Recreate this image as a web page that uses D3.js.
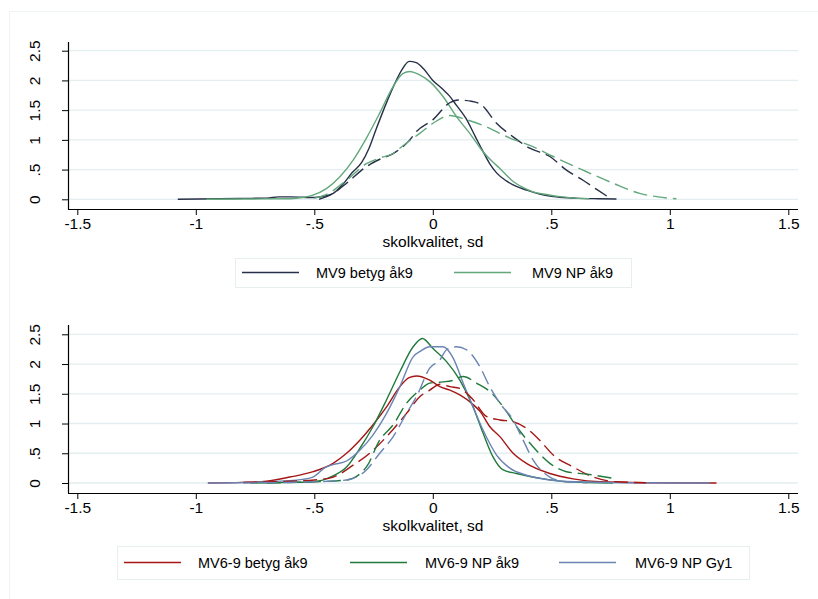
<!DOCTYPE html>
<html>
<head>
<meta charset="utf-8">
<script src="https://cdn.jsdelivr.net/npm/d3@7"></script>
<style>
  body { margin: 0; background: #fff; }
  svg text { font-family: "Liberation Sans", Arial, sans-serif; fill: #000; }
</style>
</head>
<body>
<svg id="chart" width="818" height="599"></svg>
<script>
// ---------- data ----------
const xTicks = [-1.5, -1, -0.5, 0, 0.5, 1, 1.5];
const xTickLabels = ["-1.5", "-1", "-.5", "0", ".5", "1", "1.5"];
const yTicks = [0, 0.5, 1, 1.5, 2, 2.5];
const yTickLabels = ["0", ".5", "1", "1.5", "2", "2.5"];
const xTitle = "skolkvalitet, sd";

// top panel
const mv9BetygSolid = [[-1.076,0],[-0.9,0.01],[-0.8,0.015],[-0.7,0.02],[-0.65,0.04],[-0.6,0.04],[-0.5,0.03],[-0.45,0.06],[-0.42,0.10],[-0.38,0.25],[-0.34,0.45],[-0.3,0.62],[-0.27,0.85],[-0.24,1.17],[-0.2,1.58],[-0.16,1.95],[-0.13,2.18],[-0.1,2.32],[-0.07,2.30],[-0.04,2.2],[0,2.0],[0.04,1.86],[0.07,1.74],[0.1,1.58],[0.14,1.36],[0.18,1.05],[0.21,0.82],[0.24,0.6],[0.27,0.44],[0.31,0.31],[0.35,0.22],[0.4,0.15],[0.45,0.09],[0.5,0.05],[0.55,0.03],[0.6,0.02],[0.7,0.01],[0.775,0.005]];
const mv9NPSolid = [[-0.955,0],[-0.8,0.005],[-0.6,0.01],[-0.55,0.03],[-0.506,0.07],[-0.449,0.18],[-0.392,0.38],[-0.336,0.66],[-0.28,1.03],[-0.224,1.45],[-0.167,1.9],[-0.125,2.12],[-0.097,2.15],[-0.06,2.1],[-0.013,1.98],[0.043,1.73],[0.1,1.39],[0.156,1.11],[0.212,0.8],[0.25,0.64],[0.283,0.52],[0.339,0.30],[0.38,0.2],[0.42,0.13],[0.48,0.08],[0.536,0.045],[0.6,0.02],[0.66,0.01]];
const mv9BetygDash = [[-0.48,0.0],[-0.42,0.1],[-0.364,0.27],[-0.28,0.55],[-0.22,0.68],[-0.167,0.77],[-0.097,1.0],[-0.069,1.14],[0.001,1.34],[0.07,1.62],[0.107,1.67],[0.163,1.65],[0.205,1.59],[0.269,1.28],[0.339,1.05],[0.409,0.86],[0.494,0.72],[0.564,0.49],[0.634,0.32],[0.69,0.17],[0.74,0.04]];
const mv9NPDash = [[-0.5,0.02],[-0.45,0.08],[-0.364,0.32],[-0.28,0.6],[-0.22,0.7],[-0.167,0.77],[-0.139,0.86],[-0.055,1.11],[0.001,1.28],[0.07,1.41],[0.142,1.34],[0.226,1.22],[0.325,1.03],[0.42,0.89],[0.508,0.72],[0.634,0.49],[0.761,0.27],[0.873,0.1],[0.95,0.04],[1.028,0.01]];

// bottom panel
const mv69BetygSolid = [[-0.948,0],[-0.8,0.01],[-0.702,0.03],[-0.603,0.1],[-0.505,0.19],[-0.421,0.33],[-0.364,0.5],[-0.308,0.72],[-0.252,0.98],[-0.195,1.28],[-0.139,1.62],[-0.1,1.77],[-0.069,1.80],[-0.013,1.73],[0.03,1.62],[0.072,1.56],[0.114,1.48],[0.17,1.32],[0.2,1.2],[0.24,0.95],[0.283,0.78],[0.339,0.5],[0.395,0.33],[0.494,0.16],[0.592,0.07],[0.705,0.02],[0.9,0.005],[1.197,0]];
const mv69NPSolid = [[-0.77,0],[-0.6,0.01],[-0.506,0.02],[-0.421,0.12],[-0.364,0.27],[-0.308,0.58],[-0.252,0.95],[-0.195,1.4],[-0.139,1.87],[-0.083,2.29],[-0.044,2.43],[0.001,2.26],[0.058,2.04],[0.114,1.73],[0.17,1.28],[0.212,0.84],[0.254,0.44],[0.297,0.22],[0.353,0.16],[0.451,0.08],[0.564,0.02],[0.76,0]];
const mv69GySolid = [[-0.95,0],[-0.7,0.02],[-0.55,0.06],[-0.506,0.1],[-0.45,0.27],[-0.42,0.31],[-0.364,0.37],[-0.308,0.55],[-0.252,0.81],[-0.195,1.17],[-0.139,1.62],[-0.083,2.12],[-0.05,2.22],[-0.013,2.29],[0.043,2.29],[0.086,2.1],[0.128,1.68],[0.17,1.28],[0.212,0.89],[0.269,0.47],[0.325,0.25],[0.395,0.13],[0.494,0.05],[0.6,0.02],[0.8,0.005],[1.17,0]];
const mv69BetygDash = [[-0.8,0.01],[-0.6,0.03],[-0.5,0.05],[-0.42,0.1],[-0.336,0.3],[-0.266,0.5],[-0.195,0.78],[-0.111,1.17],[-0.055,1.45],[-0.013,1.56],[0.03,1.66],[0.072,1.62],[0.114,1.59],[0.17,1.40],[0.226,1.12],[0.283,1.06],[0.339,1.03],[0.395,0.92],[0.451,0.72],[0.508,0.47],[0.592,0.27],[0.677,0.1],[0.775,0.02],[0.9,0.005]];
const mv69NPDash = [[-0.7,0.0],[-0.5,0.02],[-0.364,0.05],[-0.28,0.27],[-0.224,0.72],[-0.167,0.98],[-0.111,1.34],[-0.055,1.56],[-0.013,1.68],[0.043,1.70],[0.08,1.72],[0.128,1.79],[0.184,1.68],[0.24,1.54],[0.297,1.28],[0.353,0.95],[0.423,0.61],[0.494,0.33],[0.564,0.19],[0.648,0.15],[0.761,0.08]];
const mv69GyDash = [[-0.8,0.0],[-0.5,0.02],[-0.364,0.05],[-0.28,0.22],[-0.224,0.5],[-0.167,0.78],[-0.111,1.17],[-0.069,1.45],[-0.013,1.93],[0.03,2.07],[0.058,2.24],[0.1,2.29],[0.142,2.24],[0.198,1.96],[0.24,1.62],[0.283,1.34],[0.339,1.06],[0.381,0.72],[0.423,0.39],[0.494,0.1],[0.564,0.02],[0.65,0.005]];

const colors = { navy: "#263048", lgreen: "#62a87c", red: "#a51616", green: "#1f7a3c", blue: "#6a84b4" };

const topSeries = [
  { data: mv9BetygSolid, color: colors.navy, dash: null },
  { data: mv9NPSolid, color: colors.lgreen, dash: null },
  { data: mv9BetygDash, color: colors.navy, dash: "14,6" },
  { data: mv9NPDash, color: colors.lgreen, dash: "14,6" }
];
const bottomSeries = [
  { data: mv69BetygSolid, color: colors.red, dash: null },
  { data: mv69NPSolid, color: colors.green, dash: null },
  { data: mv69GySolid, color: colors.blue, dash: null },
  { data: mv69BetygDash, color: colors.red, dash: "14,6" },
  { data: mv69NPDash, color: colors.green, dash: "14,6" },
  { data: mv69GyDash, color: colors.blue, dash: "14,6" }
];
const topLegend = [
  { label: "MV9 betyg åk9", color: colors.navy },
  { label: "MV9 NP åk9", color: colors.lgreen }
];
const bottomLegend = [
  { label: "MV6-9 betyg åk9", color: colors.red },
  { label: "MV6-9 NP åk9", color: colors.green },
  { label: "MV6-9 NP Gy1", color: colors.blue }
];

// ---------- drawing ----------
const svg = d3.select("#chart");
svg.append("rect").attr("x", 9.5).attr("y", 11.5).attr("width", 900).attr("height", 700)
  .attr("fill", "none").attr("stroke", "#eef3f3").attr("stroke-width", 1);

function panel(cfg) {
  const x = d3.scaleLinear().domain([-1.5, 1.5]).range([77.3, 788.3]);
  const y = d3.scaleLinear().domain([0, 2.5]).range([cfg.y0, cfg.y25]);
  const g = svg.append("g");
  const left = 68, right = 798;

  // gridlines
  g.selectAll("line.grid").data(yTicks).join("line")
    .attr("x1", left).attr("x2", right)
    .attr("y1", d => y(d)).attr("y2", d => y(d))
    .attr("stroke", "#e4eef0").attr("stroke-width", 1.3);

  // x axis
  const xa = g.append("g").attr("transform", `translate(0,${cfg.axisY})`)
    .call(d3.axisBottom(x).tickValues(xTicks).tickFormat((d, i) => xTickLabels[i]).tickSize(6).tickPadding(3).tickSizeOuter(0));
  xa.select(".domain").attr("d", `M${left},0.5H${right}`).attr("stroke", "#000").attr("stroke-width", 1.2);
  xa.selectAll(".tick line").attr("stroke", "#000");
  xa.selectAll(".tick text").attr("font-size", "15.5px").attr("fill", "#000");

  // y axis
  const ya = g.append("g").attr("transform", `translate(${left},0)`)
    .call(d3.axisLeft(y).tickValues(yTicks).tickFormat((d, i) => yTickLabels[i]).tickSize(6).tickSizeOuter(0));
  ya.select(".domain").attr("d", `M0.5,${cfg.axisTop}V${cfg.axisY}`).attr("stroke", "#000").attr("stroke-width", 1.2);
  ya.selectAll(".tick line").attr("stroke", "#000");
  ya.selectAll(".tick text").attr("font-size", "15.5px").attr("fill", "#000")
    .attr("x", null).attr("dy", null)
    .attr("text-anchor", "middle")
    .attr("transform", "translate(-28,0) rotate(-90)");

  // axis title
  g.append("text").attr("x", 433).attr("y", cfg.titleY).attr("text-anchor", "middle")
    .attr("font-size", "15.5px").text(xTitle);

  // curves
  const line = d3.line().x(d => x(d[0])).y(d => y(d[1])).curve(d3.curveMonotoneX);
  g.selectAll("path.curve").data(cfg.series).join("path")
    .attr("class", "curve")
    .attr("d", d => line(d.data))
    .attr("fill", "none")
    .attr("stroke", d => d.color)
    .attr("stroke-width", 1.4)
    .attr("stroke-dasharray", d => d.dash);

  // legend
  const L = cfg.legend;
  g.append("rect").attr("x", L.x0 + 0.5).attr("y", L.y0 + 0.5).attr("width", L.x1 - L.x0).attr("height", L.y1 - L.y0)
    .attr("fill", "#fff").attr("stroke", "#e6eeee").attr("stroke-width", 1);
  const cy = (L.y0 + L.y1) / 2;
  L.items.forEach((it, i) => {
    g.append("line").attr("x1", L.lineX[i]).attr("x2", L.lineX[i] + 57)
      .attr("y1", cy).attr("y2", cy).attr("stroke", it.color).attr("stroke-width", 1.6);
    g.append("text").attr("x", L.textX[i]).attr("y", cy + 5.5).attr("font-size", "14.5px").text(it.label);
  });
}

panel({
  y0: 199.3, y25: 50.7, axisY: 209, axisTop: 42, titleY: 247,
  series: topSeries,
  legend: { x0: 235, x1: 631, y0: 258, y1: 287, lineX: [242, 454], textX: [316, 532], items: topLegend }
});
panel({
  y0: 483, y25: 334.3, axisY: 493, axisTop: 325, titleY: 531,
  series: bottomSeries,
  legend: { x0: 117, x1: 749, y0: 546, y1: 579, lineX: [124, 350, 559], textX: [198, 425, 635], items: bottomLegend }
});
</script>
</body>
</html>
